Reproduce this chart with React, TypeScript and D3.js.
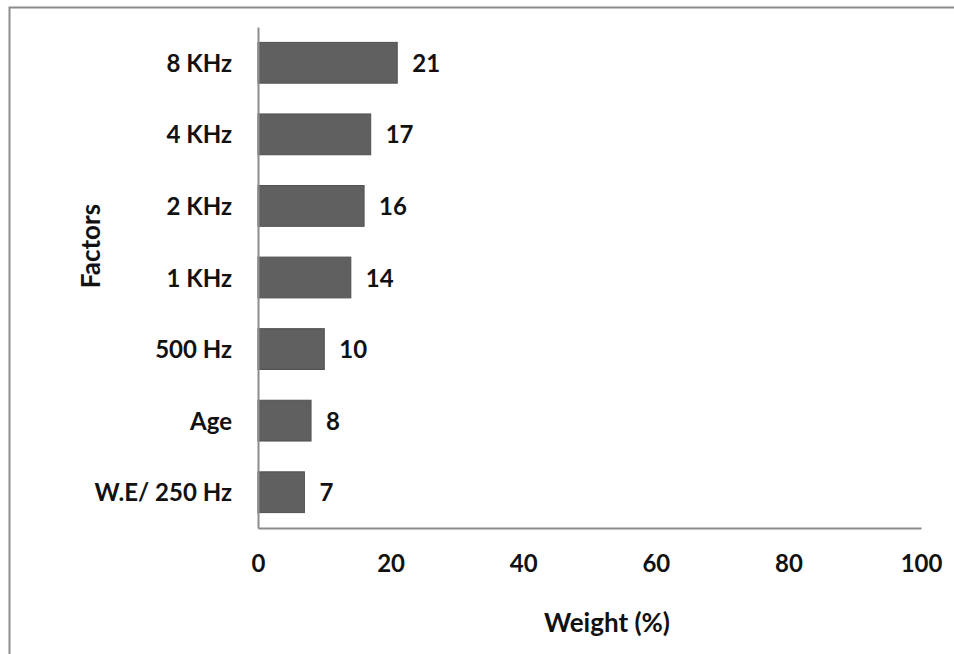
import * as d3 from "d3";
import { useEffect, useRef } from "react";

const factors = ["8 KHz", "4 KHz", "2 KHz", "1 KHz", "500 Hz", "Age", "W.E/ 250 Hz"];
const weights = [21, 17, 16, 14, 10, 8, 7];
const xTicks = [0, 20, 40, 60, 80, 100];

const W = 954;
const H = 654;
const FONT = "Lato, 'Open Sans', sans-serif";

const App = () => {
  const chartRef = useRef<SVGSVGElement | null>(null);

  useEffect(() => {
    drawChart();
  }, []);

  const drawChart = () => {
    if (!chartRef.current) return;
    const svg = d3.select(chartRef.current);
    svg.selectAll("*").remove();

    const margin = { top: 27, right: 33, bottom: 126, left: 258 };

    svg.append("rect").attr("width", W).attr("height", H).attr("fill", "#fff");

    // outer frame (top and left edge only visible)
    svg
      .append("path")
      .attr("d", `M9.5,${H} V7.5 H${W}`)
      .attr("fill", "none")
      .attr("stroke", "#8c8c8c")
      .attr("stroke-width", 2);

    const xScale = d3
      .scaleLinear()
      .domain([0, 100])
      .range([margin.left, W - margin.right]);

    const yScale = d3
      .scaleBand()
      .domain(factors)
      .range([margin.top, H - margin.bottom])
      .paddingInner(0.43)
      .paddingOuter(0.215);

    const data = factors.map((f, i) => ({ factor: f, value: weights[i] }));

    // bars
    svg
      .append("g")
      .selectAll("rect")
      .data(data)
      .join("rect")
      .attr("x", xScale(0))
      .attr("y", (d) => yScale(d.factor)!)
      .attr("width", (d) => xScale(d.value) - xScale(0))
      .attr("height", yScale.bandwidth())
      .attr("fill", "#606060")
      .attr("stroke", "#505050")
      .attr("stroke-width", 1);

    // value labels
    svg
      .append("g")
      .selectAll("text")
      .data(data)
      .join("text")
      .attr("x", (d) => xScale(d.value) + 15)
      .attr("y", (d) => yScale(d.factor)! + yScale.bandwidth() / 2)
      .attr("dy", "0.38em")
      .style("font-family", FONT)
      .style("font-size", "24px")
      .style("font-weight", "bold")
      .style("fill", "#111")
      .text((d) => d.value);

    // X axis
    const xAxis = svg
      .append("g")
      .attr("transform", `translate(0,${H - margin.bottom})`)
      .call(d3.axisBottom(xScale).tickValues(xTicks).tickSize(0).tickPadding(27));
    xAxis.select(".domain").attr("stroke", "#8c8c8c").attr("stroke-width", 2);
    xAxis
      .selectAll(".tick text")
      .style("font-family", FONT)
      .style("font-size", "24px")
      .style("font-weight", "bold")
      .style("fill", "#111");

    // Y axis
    const yAxis = svg
      .append("g")
      .attr("transform", `translate(${margin.left},0)`)
      .call(d3.axisLeft(yScale).tickSize(0).tickPadding(26));
    yAxis.select(".domain").attr("stroke", "#8c8c8c").attr("stroke-width", 2);
    yAxis
      .selectAll(".tick text")
      .attr("dy", "0.38em")
      .style("font-family", FONT)
      .style("font-size", "24px")
      .style("font-weight", "bold")
      .style("fill", "#111");

    // axis titles
    svg
      .append("text")
      .attr("x", 607)
      .attr("y", 622)
      .attr("dy", "0.38em")
      .attr("text-anchor", "middle")
      .style("font-family", FONT)
      .style("font-size", "26px")
      .style("font-weight", "bold")
      .style("fill", "#111")
      .text("Weight (%)");

    svg
      .append("text")
      .attr("transform", "translate(90,246) rotate(-90)")
      .attr("dy", "0.38em")
      .attr("text-anchor", "middle")
      .style("font-family", FONT)
      .style("font-size", "26px")
      .style("font-weight", "bold")
      .style("fill", "#111")
      .text("Factors");
  };

  return (
    <div style={{ position: "absolute", left: 0, top: 0, width: W, height: H, background: "#fff" }}>
      <svg ref={chartRef} width={W} height={H} />
    </div>
  );
};

export default App;
